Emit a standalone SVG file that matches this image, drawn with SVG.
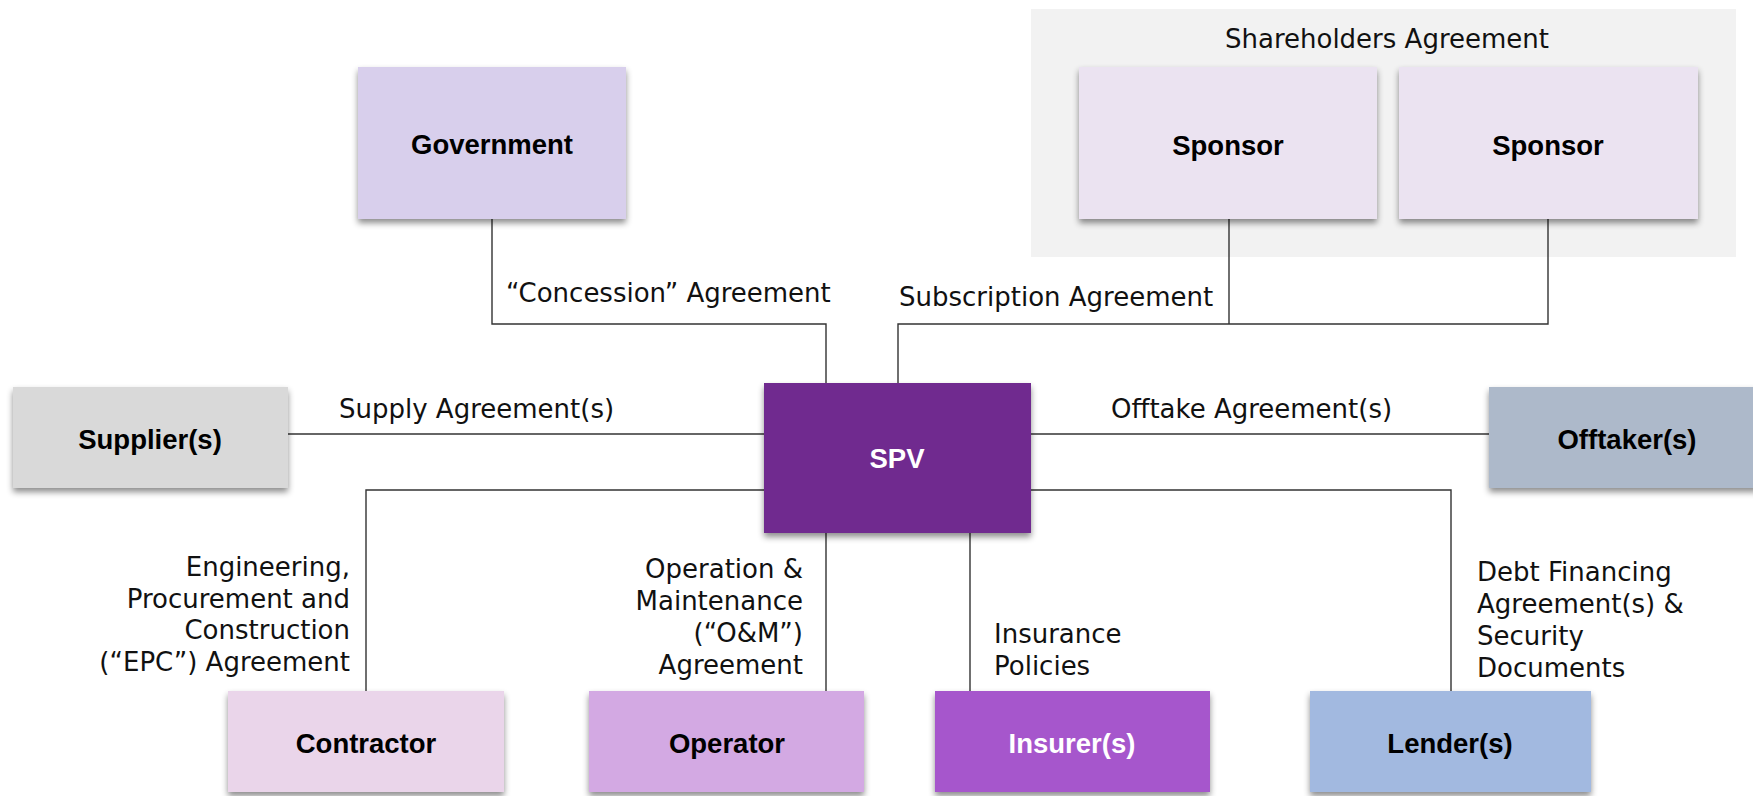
<svg xmlns="http://www.w3.org/2000/svg" width="1753" height="796" viewBox="0 0 1753 796">
<style>
.box{filter:url(#sh)}
.lbl{font-family:"Liberation Sans",Arial,sans-serif;font-size:27.5px;font-weight:bold;fill:#000;text-anchor:middle;dominant-baseline:central}
.wh{fill:#fff}
.t{font-family:"DejaVu Sans","Liberation Sans",sans-serif;font-size:26px;fill:#111}
.r{text-anchor:end}
.c{text-anchor:middle}
.ln{fill:none;stroke:#333;stroke-width:1.4}
</style>
<defs>
<filter id="sh" x="-10%" y="-10%" width="120%" height="130%">
<feDropShadow dx="0" dy="4" stdDeviation="3" flood-color="#000" flood-opacity="0.45"/>
</filter>
</defs>
<rect width="1753" height="796" fill="#fff"/>
<g id="shareholders-group">
<rect x="1031" y="9" width="705" height="248" fill="#f2f2f2"/>
<text class="t c" x="1387" y="48">Shareholders Agreement</text>
</g>
<g id="connectors">
<polyline class="ln" points="492,219 492,324 826,324 826,383"/>
<polyline class="ln" points="898,383 898,324 1548,324 1548,219"/>
<line class="ln" x1="1229" y1="219" x2="1229" y2="324"/>
<line class="ln" x1="288" y1="434" x2="764" y2="434"/>
<line class="ln" x1="1031" y1="434" x2="1489" y2="434"/>
<polyline class="ln" points="764,490 366,490 366,691"/>
<polyline class="ln" points="1031,490 1451,490 1451,691"/>
<line class="ln" x1="826" y1="533" x2="826" y2="691"/>
<line class="ln" x1="970" y1="533" x2="970" y2="691"/>
<text class="t" x="506" y="302">“Concession” Agreement</text>
<text class="t" x="899" y="306">Subscription Agreement</text>
<text class="t" x="339" y="418">Supply Agreement(s)</text>
<text class="t" x="1111" y="418">Offtake Agreement(s)</text>
<text class="t r" x="350"><tspan x="350" y="576">Engineering,</tspan><tspan x="350" y="608">Procurement and</tspan><tspan x="350" y="639">Construction</tspan><tspan x="350" y="671">(“EPC”) Agreement</tspan></text>
<text class="t r" x="803"><tspan x="803" y="578">Operation &amp;</tspan><tspan x="803" y="610">Maintenance</tspan><tspan x="803" y="642">(“O&amp;M”)</tspan><tspan x="803" y="674">Agreement</tspan></text>
<text class="t" x="994"><tspan x="994" y="643">Insurance</tspan><tspan x="994" y="675">Policies</tspan></text>
<text class="t" x="1477"><tspan x="1477" y="581">Debt Financing</tspan><tspan x="1477" y="613">Agreement(s) &amp;</tspan><tspan x="1477" y="645">Security</tspan><tspan x="1477" y="677">Documents</tspan></text>
</g>
<g id="government"><rect class="box" x="358" y="67" width="268" height="152" fill="#d8cfec"/><text class="lbl" x="492" y="144">Government</text></g>
<g id="sponsor1"><rect class="box" x="1079" y="67" width="298" height="152" fill="#ebe3f1"/><text class="lbl" x="1228" y="145">Sponsor</text></g>
<g id="sponsor2"><rect class="box" x="1399" y="67" width="299" height="152" fill="#ebe3f1"/><text class="lbl" x="1548" y="145">Sponsor</text></g>
<g id="spv"><rect class="box" x="764" y="383" width="267" height="150" fill="#6f2c8f"/><text class="lbl wh" x="897" y="458">SPV</text></g>
<g id="suppliers"><rect class="box" x="13" y="387" width="275" height="101" fill="#d9d9d9"/><text class="lbl" x="150" y="439">Supplier(s)</text></g>
<g id="offtakers"><rect class="box" x="1489" y="387" width="270" height="101" fill="#adb9ca"/><text class="lbl" x="1627" y="439">Offtaker(s)</text></g>
<g id="contractor"><rect class="box" x="228" y="691" width="276" height="101" fill="#ead5ea"/><text class="lbl" x="366" y="743">Contractor</text></g>
<g id="operator"><rect class="box" x="589" y="691" width="275" height="101" fill="#d3a9e3"/><text class="lbl" x="727" y="743">Operator</text></g>
<g id="insurers"><rect class="box" x="935" y="691" width="275" height="101" fill="#a657cc"/><text class="lbl wh" x="1072" y="743">Insurer(s)</text></g>
<g id="lenders"><rect class="box" x="1310" y="691" width="281" height="101" fill="#a2b9e0"/><text class="lbl" x="1450" y="743">Lender(s)</text></g>
</svg>
